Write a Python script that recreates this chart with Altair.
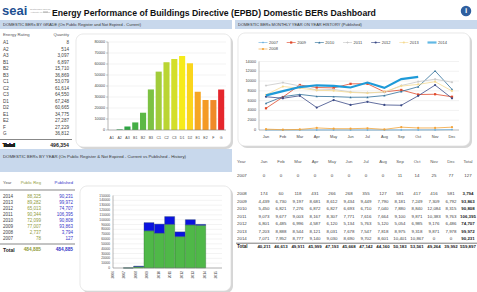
import altair as alt
import pandas as pd

FONT = "Liberation Sans"

# ---------------- data ----------------
grades = ["A1", "A2", "A3", "B1", "B2", "B3", "C1", "C2", "C3", "D1", "D2", "E1", "E2", "F", "G"]
grade_counts = [8, 514, 3097, 6897, 15710, 36869, 53079, 61614, 64550, 67248, 60665, 34775, 27287, 27229, 36812]
grade_colors = ["#138a3e", "#1f9a40", "#2fa644", "#45ae46", "#5cb845", "#7dc243", "#a2cc3a", "#bad532",
                "#d3de2a", "#f6eb1a", "#fad51c", "#f6a623", "#f49a25", "#f08a28", "#e5262c"]
grade_ticks = [0, 10000, 20000, 30000, 40000, 50000, 60000, 70000, 80000]

reg_years = [2014, 2013, 2012, 2011, 2010, 2009, 2008, 2007]
public_reg = [88325, 89282, 65013, 90344, 72099, 77007, 2737, 78]
year_ticks = [0, 10000, 20000, 30000, 40000, 50000, 60000, 70000, 80000, 90000, 100000,
              110000, 120000, 130000, 140000, 150000]
year_axis = [2006, 2007, 2008, 2009, 2010, 2011, 2012, 2013, 2014, 2015]

months = ["Jan", "Feb", "Mar", "Apr", "May", "Jun", "Jul", "Aug", "Sep", "Oct", "Nov", "Dec"]
m2007 = [0, 0, 0, 0, 0, 0, 0, 0, 11, 14, 25, 77]
m2008 = [174, 60, 118, 431, 266, 268, 355, 127, 581, 417, 416, 581]
m2009 = [4439, 6730, 9197, 8681, 8612, 9434, 9449, 7790, 8181, 7249, 7309, 6792]
m2010 = [5450, 6821, 7276, 6872, 6827, 6693, 6710, 7040, 7880, 8840, 12084, 8315]
m2011 = [9073, 9677, 9003, 8167, 8307, 7771, 7616, 7664, 9100, 9871, 10383, 9763]
m2012 = [6801, 6485, 6996, 4587, 6120, 5134, 5763, 5120, 5054, 6985, 9176, 6486]
m2013 = [7203, 8888, 8544, 8121, 8031, 7678, 7547, 7818, 8975, 9318, 9871, 7978]
m2014 = [7071, 7952, 8777, 9140, 9030, 8690, 9702, 8601, 10401, 10867, 0, 0]
line_ticks = [0, 2000, 4000, 6000, 8000, 10000, 12000, 14000]

legend_order = ["2007", "2009", "2010", "2011", "2012", "2013", "2014", "2008"]
series_colors = ["#6cb0dd", "#e0492b", "#2f6f99", "#c9c9c9", "#3b4a86", "#f5da93", "#1e9ad8", "#f3a43a"]
series_shapes = ["diamond", "square", "triangle-up", "cross", "circle", "circle", "circle", "circle"]

monthly = {"2007": m2007, "2008": m2008, "2009": m2009, "2010": m2010,
           "2011": m2011, "2012": m2012, "2013": m2013, "2014": m2014}

# ---------------- tables ----------------
gdf = pd.DataFrame({"rating": grades, "count": grade_counts, "color": grade_colors})

ydf = pd.DataFrame({"year": reg_years, "public": public_reg})
ydf["published"] = [sum(monthly[str(y)]) for y in reg_years]
ydf["yl"] = ydf["year"].astype(str)

long_rows = []
for s, vals in monthly.items():
    for m, v in zip(months, vals):
        long_rows.append({"series": s, "month": m, "value": v})
mdf = pd.DataFrame(long_rows)

tab_rows = list(monthly.keys()) + ["Total"]
cell_rows = []
for s in tab_rows:
    vals = [sum(monthly[k][i] for k in monthly) for i in range(12)] if s == "Total" else monthly[s]
    for m, v in zip(months, vals):
        cell_rows.append({"row": s, "col": m, "value": v})
    cell_rows.append({"row": s, "col": "Total", "value": sum(vals)})
cdf = pd.DataFrame(cell_rows)
tdf = pd.DataFrame({"row": tab_rows})

one = pd.DataFrame({"k": [0]})


def box(x, x2, y, y2, fill, stroke=None, radius=0, sw=0.6):
    kw = dict(fill=fill, cornerRadius=radius)
    if stroke:
        kw.update(stroke=stroke, strokeWidth=sw)
    return alt.Chart(one).mark_rect(**kw).encode(
        x=alt.value(x), x2=alt.value(x2), y=alt.value(y), y2=alt.value(y2))


def hline(x, x2, y, color="#444", sw=0.6):
    return alt.Chart(one).mark_rule(color=color, strokeWidth=sw).encode(
        x=alt.value(x), x2=alt.value(x2), y=alt.value(y))


def label(text, x, y, size=5.0, color="#333", weight="normal", align="left"):
    return alt.Chart(one).mark_text(
        text=text, fontSize=size, color=color, fontWeight=weight, align=align,
        baseline="middle", font=FONT).encode(x=alt.value(x), y=alt.value(y))


def panel(x, x2, y, y2):
    return [box(x + 2, x2 + 2, y + 2, y2 + 2, "#d6d6d6", radius=7),
            box(x, x2, y, y2, "#ffffff", stroke="#d8d8d8", radius=7)]


layers = []

# ---------- header ----------
layers += [
    label("seai", 2, 11, size=13, color="#1d4f91", weight="bold"),
    label("Sustainable Energy", 30, 9.5, size=2.4, color="#9a9a9a"),
    label("Authority of Ireland", 30, 12.5, size=2.4, color="#9a9a9a"),
    hline(43, 48, 12, color="#9a9a9a", sw=0.8),
    label("Energy Performance of Buildings Directive (EPBD) Domestic BERs Dashboard", 52, 12.5,
          size=8.7, color="#111", weight="bold"),
    alt.Chart(one).mark_circle(size=110, color="#2f5f9f", opacity=1).encode(
        x=alt.value(466), y=alt.value(11)),
    label("i", 466, 11, size=8, color="#ffffff", weight="bold", align="center"),
]

# ---------- section headers ----------
hb = "#c8d8ec"
layers += [
    box(0, 232, 20, 29, hb),
    box(235, 477, 20, 29, hb),
    box(0, 232, 149, 172, hb),
    label("DOMESTIC BERs BY GRADE (On Public Register and Not Expired - Current)", 3, 24.5, size=4, color="#333"),
    label("DOMESTIC BERs MONTHLY YEAR ON YEAR HISTORY (Published)", 238, 24.5, size=4, color="#333"),
    label("DOMESTIC BERs BY YEAR (On Public Register & Not Expired - Current vs Published - History)",
          3, 157, size=4.3, color="#333"),
]

# ---------- grade table ----------
g_row = alt.Scale(type="point", domain=grades, range=[43, 134], padding=0)
layers += [
    label("Energy Rating", 3, 35, size=4.2, color="#555"),
    label("Quantity", 69, 35, size=4.2, color="#555", align="right"),
    alt.Chart(gdf).mark_text(align="left", baseline="middle", fontSize=4.6, color="#444", font=FONT).encode(
        x=alt.value(3), y=alt.Y("rating:N", scale=g_row, axis=None), text="rating:N"),
    alt.Chart(gdf).mark_text(align="right", baseline="middle", fontSize=4.6, color="#444", font=FONT).encode(
        x=alt.value(69), y=alt.Y("rating:N", scale=g_row, axis=None), text=alt.Text("count:Q", format=",")),
    hline(0, 72, 139.5, color="#555", sw=0.7),
    alt.Chart(gdf).mark_text(align="left", baseline="middle", fontSize=5.2, color="#222", fontWeight="bold",
                             font=FONT, text="Total").encode(x=alt.value(3), y=alt.value(145)),
    alt.Chart(gdf).transform_aggregate(total="sum(count)").mark_text(
        align="right", baseline="middle", fontSize=5.2, color="#222", fontWeight="bold", font=FONT).encode(
        x=alt.value(69), y=alt.value(145), text=alt.Text("total:Q", format=",")),
]

# ---------- grade bar chart ----------
layers += panel(76, 231, 34, 147)
g_x = alt.Scale(type="band", domain=grades, range=[108, 225], paddingInner=0.22, paddingOuter=0.1)
g_y = alt.Scale(domain=[0, 80000], range=[130, 42])
gt = pd.DataFrame({"v": grade_ticks})
layers += [
    alt.Chart(gt).mark_rule(color="#e6e6e6", strokeWidth=0.5).encode(
        y=alt.Y("v:Q", scale=g_y, axis=None), x=alt.value(108), x2=alt.value(226)),
    alt.Chart(gt).mark_text(align="right", baseline="middle", fontSize=3.8, color="#444", font=FONT).encode(
        y=alt.Y("v:Q", scale=g_y, axis=None), x=alt.value(105), text="v:Q"),
    alt.Chart(gt).mark_rule(color="#888", strokeWidth=0.5).encode(
        y=alt.Y("v:Q", scale=g_y, axis=None), x=alt.value(106), x2=alt.value(108)),
    alt.Chart(one).mark_rule(color="#888", strokeWidth=0.6).encode(
        x=alt.value(108), y=alt.value(42), y2=alt.value(130)),
    alt.Chart(gdf).mark_bar().encode(
        x=alt.X("rating:N", scale=g_x, axis=None),
        y=alt.Y("count:Q", scale=g_y, axis=None),
        color=alt.Color("color:N", scale=None)),
    alt.Chart(one).mark_rule(color="#888", strokeWidth=0.6).encode(
        x=alt.value(108), x2=alt.value(226), y=alt.value(130)),
    alt.Chart(gdf).mark_text(baseline="middle", fontSize=3.6, color="#444", font=FONT).encode(
        x=alt.X("rating:N", scale=g_x, axis=None), y=alt.value(138), text="rating:N"),
]

# ---------- year table ----------
y_row = alt.Scale(type="point", domain=[str(y) for y in reg_years], range=[197, 239], padding=0)
layers += [
    label("Year", 3, 183, size=4.2, color="#555"),
    label("Public Reg", 41, 183, size=4.2, color="#8f9a3a", align="right"),
    label("Published", 73, 183, size=4.2, color="#3434c8", align="right"),
    hline(0, 75, 190, color="#555", sw=0.7),
    alt.Chart(ydf).mark_text(align="left", baseline="middle", fontSize=4.5, color="#444", font=FONT).encode(
        x=alt.value(3), y=alt.Y("yl:N", scale=y_row, axis=None), text="yl:N"),
    alt.Chart(ydf).mark_text(align="right", baseline="middle", fontSize=4.5, color="#8f9a3a", font=FONT).encode(
        x=alt.value(41), y=alt.Y("yl:N", scale=y_row, axis=None), text=alt.Text("public:Q", format=",")),
    alt.Chart(ydf).mark_text(align="right", baseline="middle", fontSize=4.5, color="#3434c8", font=FONT).encode(
        x=alt.value(73), y=alt.Y("yl:N", scale=y_row, axis=None), text=alt.Text("published:Q", format=",")),
    hline(0, 75, 244, color="#555", sw=0.7),
    label("Total", 3, 250, size=5, color="#222", weight="bold"),
    alt.Chart(ydf).transform_aggregate(total="sum(public)").mark_text(
        align="right", baseline="middle", fontSize=4.8, color="#8f9a3a", fontWeight="bold", font=FONT).encode(
        x=alt.value(41), y=alt.value(250), text=alt.Text("total:Q", format=",")),
    alt.Chart(ydf).transform_aggregate(total="sum(published)").mark_text(
        align="right", baseline="middle", fontSize=4.8, color="#3434c8", fontWeight="bold", font=FONT).encode(
        x=alt.value(73), y=alt.value(250), text=alt.Text("total:Q", format=",")),
]

# ---------- year stacked bar chart ----------
layers += panel(80, 231, 186, 291)
yx = alt.Scale(domain=[2006, 2015], range=[113, 216])
yy = alt.Scale(domain=[0, 150000], range=[268, 195.5])
ytk = pd.DataFrame({"v": year_ticks})
yax = pd.DataFrame({"yr": year_axis})
layers += [
    alt.Chart(ytk).mark_rule(color="#e6e6e6", strokeWidth=0.5).encode(
        y=alt.Y("v:Q", scale=yy, axis=None), x=alt.value(113), x2=alt.value(222)),
    alt.Chart(ytk).mark_text(align="right", baseline="middle", fontSize=3.2, color="#444", font=FONT).encode(
        y=alt.Y("v:Q", scale=yy, axis=None), x=alt.value(110), text="v:Q"),
    alt.Chart(one).mark_rule(color="#888", strokeWidth=0.6).encode(
        x=alt.value(113), y=alt.value(195.5), y2=alt.value(268)),
    alt.Chart(ydf).mark_bar(size=10, color="#4fb848", stroke="#2f6f34", strokeWidth=0.4).encode(
        x=alt.X("year:Q", scale=yx, axis=None), y=alt.Y("public:Q", scale=yy, axis=None)),
    alt.Chart(ydf).mark_bar(size=10, color="#0a12e0", stroke="#2f4f6f", strokeWidth=0.4).encode(
        x=alt.X("year:Q", scale=yx, axis=None), y=alt.Y("published:Q", scale=yy, axis=None),
        y2="public:Q"),
    alt.Chart(one).mark_rule(color="#888", strokeWidth=0.6).encode(
        x=alt.value(113), x2=alt.value(222), y=alt.value(268)),
    alt.Chart(yax).mark_text(angle=270, align="right", baseline="middle", fontSize=3.4, color="#444",
                             font=FONT).encode(
        x=alt.X("yr:Q", scale=yx, axis=None), y=alt.value(271), text="yr:N"),
]

# ---------- monthly line chart ----------
layers += panel(238, 470, 33, 146)
lx = alt.Scale(type="point", domain=months, range=[266, 452], padding=0)
ly = alt.Scale(domain=[0, 14000], range=[130, 61.5])
ltk = pd.DataFrame({"v": line_ticks})
col_scale = alt.Scale(domain=legend_order, range=series_colors)
shape_scale = alt.Scale(domain=legend_order, range=series_shapes)
layers += [
    alt.Chart(ltk).mark_rule(color="#e4e4e4", strokeWidth=0.5).encode(
        y=alt.Y("v:Q", scale=ly, axis=None), x=alt.value(259), x2=alt.value(459)),
    alt.Chart(ltk).mark_text(align="right", baseline="middle", fontSize=3.8, color="#444", font=FONT).encode(
        y=alt.Y("v:Q", scale=ly, axis=None), x=alt.value(256), text="v:Q"),
    alt.Chart(one).mark_rule(color="#999", strokeWidth=0.6).encode(
        x=alt.value(259), y=alt.value(61.5), y2=alt.value(130)),
    alt.Chart(one).mark_rule(color="#999", strokeWidth=0.6).encode(
        x=alt.value(259), x2=alt.value(459), y=alt.value(130)),
    alt.Chart(pd.DataFrame({"month": months})).mark_text(
        baseline="middle", fontSize=3.9, color="#444", font=FONT).encode(
        x=alt.X("month:N", scale=lx, axis=None), y=alt.value(137), text="month:N"),
    alt.Chart(mdf).transform_filter("datum.series != '2014'").mark_line(strokeWidth=0.8).encode(
        x=alt.X("month:N", scale=lx, axis=None, sort=months),
        y=alt.Y("value:Q", scale=ly, axis=None),
        color=alt.Color("series:N", scale=col_scale, legend=None),
        detail="series:N"),
    alt.Chart(mdf).transform_filter("datum.series != '2014'").mark_point(
        filled=True, size=5, opacity=1).encode(
        x=alt.X("month:N", scale=lx, axis=None),
        y=alt.Y("value:Q", scale=ly, axis=None),
        color=alt.Color("series:N", scale=col_scale, legend=None),
        shape=alt.Shape("series:N", scale=shape_scale, legend=None)),
    alt.Chart(mdf).transform_filter("datum.series == '2014' && datum.value > 0").mark_line(
        strokeWidth=2.2).encode(
        x=alt.X("month:N", scale=lx, axis=None, sort=months),
        y=alt.Y("value:Q", scale=ly, axis=None),
        color=alt.Color("series:N", scale=col_scale, legend=None)),
]

# legend: seven entries per row
leg = pd.DataFrame({"series": legend_order})
leg["col"] = [i % 7 for i in range(len(legend_order))]
leg["row"] = [i // 7 for i in range(len(legend_order))]
lgx = alt.Scale(type="point", domain=list(range(7)), range=[263, 432], padding=0)
lgy = alt.Scale(type="point", domain=[0, 1], range=[42.5, 49], padding=0)
layers += [
    alt.Chart(leg).transform_filter("datum.series != '2014'").mark_tick(
        orient="horizontal", size=9, thickness=0.9).encode(
        x=alt.X("col:O", scale=lgx, axis=None), y=alt.Y("row:O", scale=lgy, axis=None),
        color=alt.Color("series:N", scale=col_scale, legend=None)),
    alt.Chart(leg).transform_filter("datum.series == '2014'").mark_tick(
        orient="horizontal", size=9, thickness=2.2).encode(
        x=alt.X("col:O", scale=lgx, axis=None), y=alt.Y("row:O", scale=lgy, axis=None),
        color=alt.Color("series:N", scale=col_scale, legend=None)),
    alt.Chart(leg).transform_filter("datum.series != '2014'").mark_point(filled=True, size=5, opacity=1).encode(
        x=alt.X("col:O", scale=lgx, axis=None), y=alt.Y("row:O", scale=lgy, axis=None),
        color=alt.Color("series:N", scale=col_scale, legend=None),
        shape=alt.Shape("series:N", scale=shape_scale, legend=None)),
    alt.Chart(leg).mark_text(align="left", baseline="middle", dx=6, fontSize=4, color="#444", font=FONT).encode(
        x=alt.X("col:O", scale=lgx, axis=None), y=alt.Y("row:O", scale=lgy, axis=None), text="series:N"),
]

# ---------- monthly table ----------
mcols = months + ["Total"]
tx = alt.Scale(type="point", domain=mcols, range=[264, 468], padding=0)
layers += [
    label("Year", 237, 162, size=4.3, color="#555"),
    alt.Chart(pd.DataFrame({"col": mcols})).mark_text(
        baseline="middle", fontSize=4.3, color="#555", font=FONT).encode(
        x=alt.X("col:N", scale=tx, axis=None), y=alt.value(162), text="col:N"),
]
# 2007 sits apart from the later rows
later = [r for r in tab_rows if r != "2007"]
trow2 = alt.Scale(type="point", domain=later, range=[194, 247], padding=0)
layers += [
    alt.Chart(tdf).transform_filter("datum.row == '2007'").mark_text(
        align="left", baseline="middle", fontSize=4.4, color="#444", font=FONT).encode(
        x=alt.value(237), y=alt.value(176), text="row:N"),
    alt.Chart(cdf).transform_filter("datum.row == '2007'").mark_text(
        baseline="middle", fontSize=4.4, color="#444", font=FONT).encode(
        x=alt.X("col:N", scale=tx, axis=None), y=alt.value(176), text=alt.Text("value:Q", format=",")),
    alt.Chart(tdf).transform_filter("datum.row != '2007' && datum.row != 'Total'").mark_text(
        align="left", baseline="middle", fontSize=4.4, color="#444", font=FONT).encode(
        x=alt.value(237), y=alt.Y("row:N", scale=trow2, axis=None), text="row:N"),
    alt.Chart(cdf).transform_filter("datum.row != '2007' && datum.row != 'Total' && datum.col != 'Total'").mark_text(
        baseline="middle", fontSize=4.4, color="#444", font=FONT).encode(
        x=alt.X("col:N", scale=tx, axis=None), y=alt.Y("row:N", scale=trow2, axis=None),
        text=alt.Text("value:Q", format=",")),
    alt.Chart(cdf).transform_filter("datum.row != '2007' && datum.row != 'Total' && datum.col == 'Total'").mark_text(
        baseline="middle", fontSize=4.4, color="#222", fontWeight="bold", font=FONT).encode(
        x=alt.X("col:N", scale=tx, axis=None), y=alt.Y("row:N", scale=trow2, axis=None),
        text=alt.Text("value:Q", format=",")),
    hline(236, 477, 243.2, color="#444", sw=0.7),
    alt.Chart(tdf).transform_filter("datum.row == 'Total'").mark_text(
        align="left", baseline="middle", fontSize=4.6, color="#222", fontWeight="bold", font=FONT).encode(
        x=alt.value(237), y=alt.Y("row:N", scale=trow2, axis=None), text="row:N"),
    alt.Chart(cdf).transform_filter("datum.row == 'Total'").mark_text(
        baseline="middle", fontSize=4.4, color="#222", fontWeight="bold", font=FONT).encode(
        x=alt.X("col:N", scale=tx, axis=None), y=alt.Y("row:N", scale=trow2, axis=None),
        text=alt.Text("value:Q", format=",")),
]

chart = alt.layer(*layers).resolve_scale(
    x="independent", y="independent", color="independent", shape="independent"
).properties(
    width=477, height=292, padding=0, autosize=alt.AutoSizeParams(type="none"),
    background="#ffffff"
).configure_view(stroke=None)

chart.save("out.html", embed_options={"renderer": "svg", "actions": False})
